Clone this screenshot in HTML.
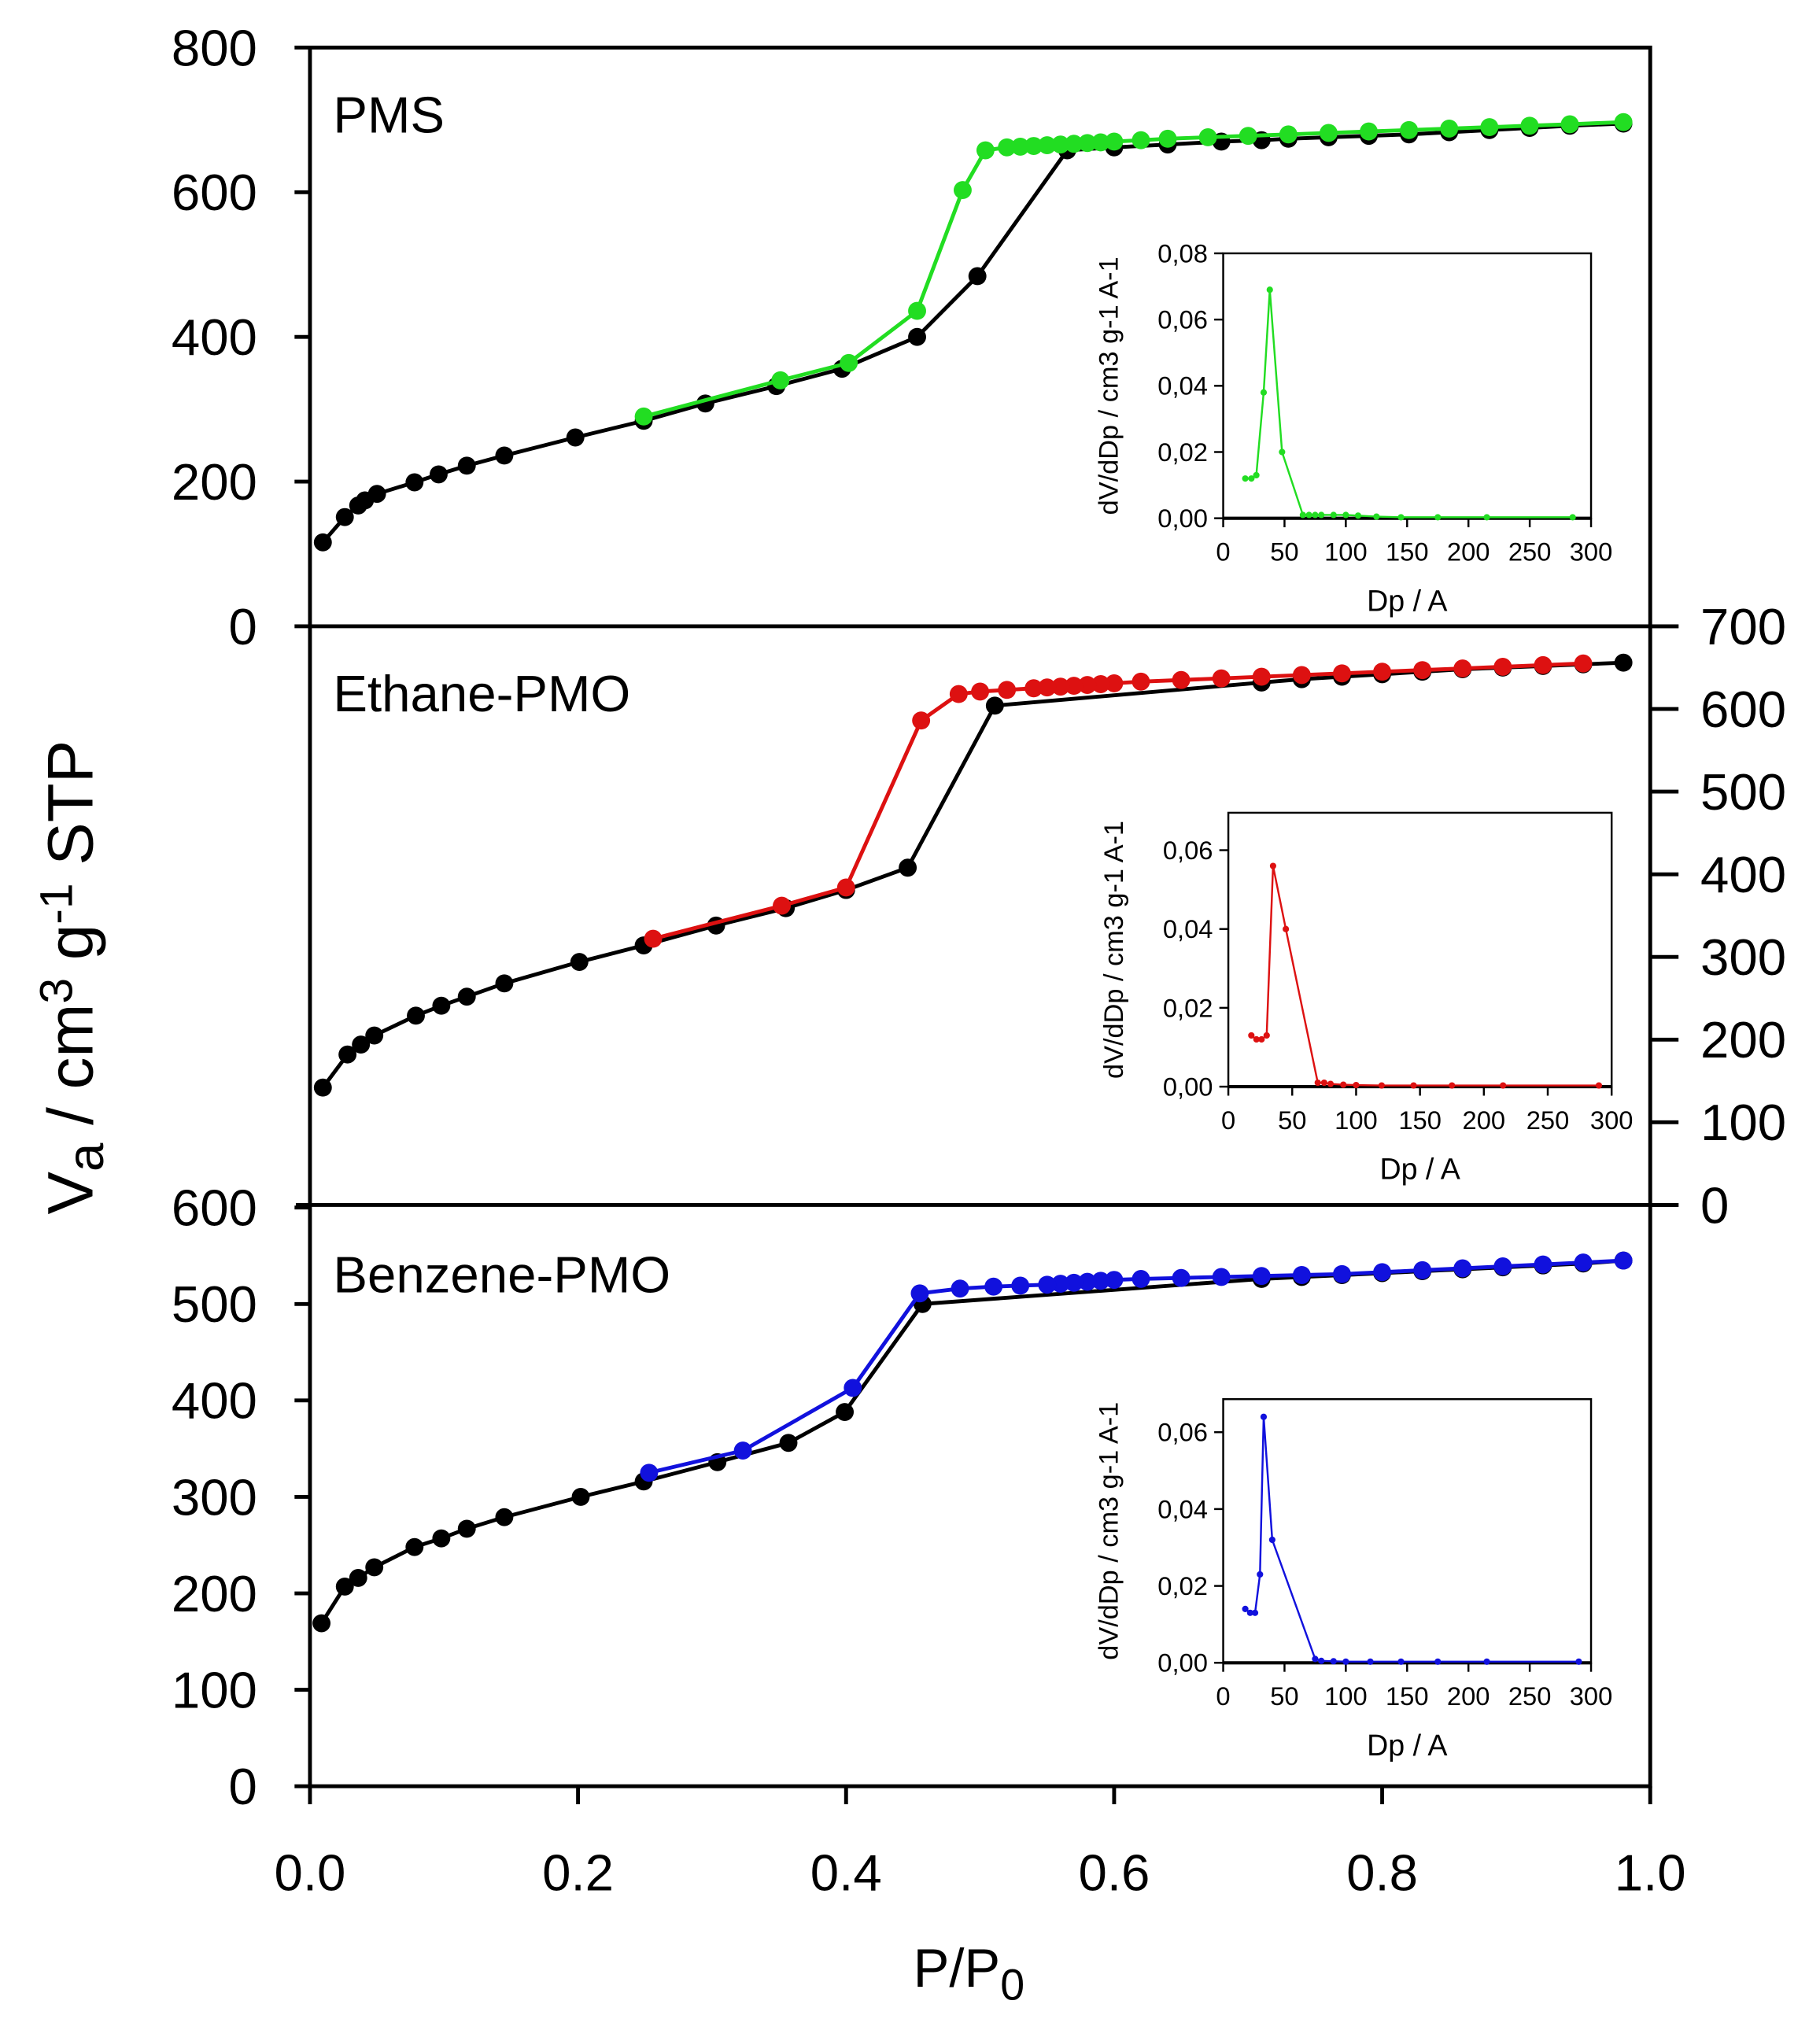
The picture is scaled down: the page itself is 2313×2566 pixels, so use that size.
<!DOCTYPE html>
<html><head><meta charset="utf-8"><style>
html,body{margin:0;padding:0;background:#fff}
svg{display:block}
text{font-family:"Liberation Sans",Arial,sans-serif;fill:#000}
</style></head><body>
<svg id="chart" xmlns="http://www.w3.org/2000/svg" width="2313" height="2566" viewBox="0 0 1415 1570" preserveAspectRatio="none">
<g id="root"></g>
</svg>
<script>
// ---- Data ----
// PMS
const pmsAdsP=[0.0096,0.026,0.036,0.041,0.050,0.078,0.096,0.117,0.145,0.198,0.249,0.295,0.348,0.397,0.453,0.498,0.565,0.60,0.64,0.68,0.71,0.73,0.76,0.79,0.82,0.85,0.88,0.91,0.94,0.98];
const pmsAdsV=[116,151,167,174,183,199,210,222,236,261,284,308,332,356,400,484,658,662,666,670,672,674,676,678,680,683,686,689,692,695];
const pmsDesP=[0.98,0.94,0.91,0.88,0.85,0.82,0.79,0.76,0.73,0.70,0.67,0.64,0.62,0.60,0.59,0.58,0.57,0.56,0.55,0.54,0.53,0.52,0.504,0.487,0.453,0.402,0.351,0.249];
const pmsDesV=[697,694,692,690,688,686,684,682,680,678,676,674,672,670,669,668,667,666,665,664,663,662,658,603,436,364,340,290];
const psdPmsD=[18,23,27,33,38,48,65,70,75,80,90,100,110,125,145,175,215,285];
const psdPmsV=[0.012,0.012,0.013,0.038,0.069,0.020,0.001,0.001,0.001,0.001,0.001,0.001,0.0008,0.0005,0.0003,0.0003,0.0003,0.0003];
// Ethane-PMO
const ethAdsP=[0.0096,0.028,0.038,0.048,0.079,0.098,0.117,0.145,0.201,0.249,0.303,0.355,0.40,0.446,0.511,0.71,0.74,0.77,0.80,0.83,0.86,0.89,0.92,0.95,0.98];
const ethAdsV=[142,182,194,205,229,241,252,268,294,314,338,359,381,408,604,632,636,639,642,645,648,650,652,654,656];
const ethDesP=[0.95,0.92,0.89,0.86,0.83,0.80,0.77,0.74,0.71,0.68,0.65,0.62,0.60,0.59,0.58,0.57,0.56,0.55,0.54,0.52,0.50,0.484,0.456,0.40,0.352,0.256];
const ethDesV=[655,653,651,649,647,645,643,641,639,637,635,633,631,630,629,628,627,626,625,623,621,618,586,384,362,322];
const psdEthD=[18,22,26,30,35,45,70,75,80,90,100,120,145,175,215,290];
const psdEthV=[0.013,0.012,0.012,0.013,0.056,0.040,0.001,0.001,0.0007,0.0005,0.0004,0.0003,0.0003,0.0003,0.0003,0.0003];
// Benzene-PMO
const benAdsP=[0.0086,0.026,0.036,0.048,0.078,0.098,0.117,0.145,0.202,0.249,0.304,0.357,0.399,0.457,0.71,0.74,0.77,0.80,0.83,0.86,0.89,0.92,0.95,0.98];
const benAdsV=[169,207,216,227,248,257,267,279,300,316,336,356,388,500,526,528,530,532,534,536,538,540,542,545];
const benDesP=[0.98,0.95,0.92,0.89,0.86,0.83,0.80,0.77,0.74,0.71,0.68,0.65,0.62,0.60,0.59,0.58,0.57,0.56,0.55,0.53,0.51,0.485,0.455,0.405,0.323,0.253];
const benDesV=[545,543,541,539,537,535,533,531,530,529,528,527,526,525,524,523,522,521,520,519,518,516,511,413,348,325];
const psdBenD=[18,22,26,30,33,40,75,80,90,100,120,145,175,215,290];
const psdBenV=[0.014,0.013,0.013,0.023,0.064,0.032,0.001,0.0005,0.0004,0.0003,0.0003,0.0003,0.0003,0.0003,0.0003];
// Tick labels
const xTicks=[0,0.2,0.4,0.6,0.8,1.0];
const xTickLabels=["0.0","0.2","0.4","0.6","0.8","1.0"];
const topTicks=[0,200,400,600,800];
const midTicks=[0,100,200,300,400,500,600,700];
const botTicks=[0,100,200,300,400,500,600];
const insetXTicks=[0,50,100,150,200,250,300];

const NS="http://www.w3.org/2000/svg";
const root=document.getElementById('root');
function mk(tag,attrs,parent){const e=document.createElementNS(NS,tag);for(const k in attrs)e.setAttribute(k,attrs[k]);(parent||root).appendChild(e);return e;}
const X0=241,X1=1283;
function xs(p){return X0+(X1-X0)*p;}
function yScale(top,bot,max){return v=>bot-(bot-top)*v/max;}

const panels=[
 {name:'pms',top:37,bot:487,max:800,ticks:topTicks,side:'left',label:'PMS',ads:[pmsAdsP,pmsAdsV],des:[pmsDesP,pmsDesV],col:'#22dd22',
  inset:{x0:951,x1:1237,top:197,bot:403,max:0.08,yt:[0,0.02,0.04,0.06,0.08],d:psdPmsD,v:psdPmsV}},
 {name:'ethane-pmo',top:487,bot:937,max:700,ticks:midTicks,side:'right',label:'Ethane-PMO',ads:[ethAdsP,ethAdsV],des:[ethDesP,ethDesV],col:'#dd1111',
  inset:{x0:955,x1:1253,top:632,bot:845,max:0.0695,yt:[0,0.02,0.04,0.06],d:psdEthD,v:psdEthV}},
 {name:'benzene-pmo',top:939,bot:1389,max:600,ticks:botTicks,side:'left',label:'Benzene-PMO',ads:[benAdsP,benAdsV],des:[benDesP,benDesV],col:'#1111dd',
  inset:{x0:951,x1:1237,top:1088,bot:1293,max:0.0686,yt:[0,0.02,0.04,0.06],d:psdBenD,v:psdBenV}}
];

// frame
let f=mk('rect',{x:X0,y:37,width:X1-X0,height:1352,fill:'none',stroke:'#000','stroke-width':3});

let d1=mk('line',{x1:X0,y1:487,x2:1305,y2:487,stroke:'#000','stroke-width':3});

let d2=mk('line',{x1:230,y1:937,x2:1305,y2:937,stroke:'#000','stroke-width':3});


panels.forEach(pn=>{
  const g=mk('g',{});
  
  
  const ys=yScale(pn.top,pn.bot,pn.max);
  pn.ticks.forEach(t=>{
    const y=ys(t);
    if(pn.side==='left'){
      mk('line',{x1:229,y1:y,x2:X0,y2:y,stroke:'#000','stroke-width':3},g);
      const tx=mk('text',{x:200,y:y+14,'font-size':40,'text-anchor':'end'},g);tx.textContent=t;
      
      
    }else{
      mk('line',{x1:X1,y1:y,x2:1305,y2:y,stroke:'#000','stroke-width':3},g);
      const tx=mk('text',{x:1322,y:y+14,'font-size':40,'text-anchor':'start'},g);tx.textContent=t;
      
      
    }
  });
  const lb=mk('text',{x:259,y:pn.top+66,'font-size':40},g);lb.textContent=pn.label;
  
  
  // series
  function series(arr,color,nm){
    const pts=arr[0].map((p,i)=>xs(p)+','+ys(arr[1][i])).join(' ');
    const pl=mk('polyline',{points:pts,fill:'none',stroke:color,'stroke-width':3},g);
    
    
    arr[0].forEach((p,i)=>{
      const c=mk('circle',{cx:xs(p),cy:ys(arr[1][i]),r:7,fill:color},g);
      
      
    });
  }
  series(pn.ads,'#000','adsorption');
  series(pn.des,pn.col,'desorption');
  // inset
  const I=pn.inset;
  const ig=mk('g',{},g);
  
  
  mk('rect',{x:I.x0,y:I.top,width:I.x1-I.x0,height:I.bot-I.top,fill:'#fff',stroke:'#000','stroke-width':1.5},ig);
  const ix=d=>I.x0+(I.x1-I.x0)*d/300, iy=v=>I.bot-(I.bot-I.top)*v/I.max;
  mk('line',{x1:I.x0,y1:I.bot,x2:I.x1,y2:I.bot,stroke:'#000','stroke-width':2.5},ig);
  insetXTicks.forEach(t=>{
    mk('line',{x1:ix(t),y1:I.bot,x2:ix(t),y2:I.bot+7,stroke:'#000','stroke-width':1.5},ig);
    const tx=mk('text',{x:ix(t),y:I.bot+33,'font-size':20,'text-anchor':'middle'},ig);tx.textContent=t;
    
    
  });
  I.yt.forEach(t=>{
    mk('line',{x1:I.x0-7,y1:iy(t),x2:I.x0,y2:iy(t),stroke:'#000','stroke-width':1.5},ig);
    const tx=mk('text',{x:I.x0-12,y:iy(t)+7,'font-size':20,'text-anchor':'end'},ig);tx.textContent=t.toFixed(2).replace('.',',');
    
    
  });
  const xl=mk('text',{x:(I.x0+I.x1)/2,y:I.bot+72,'font-size':23,'text-anchor':'middle'},ig);xl.textContent='Dp / A';
  
  
  const cy=(I.top+I.bot)/2, cx=I.x0-82;
  const yl=mk('text',{x:cx,y:cy,'font-size':21,'text-anchor':'middle',transform:`rotate(-90 ${cx} ${cy})`},ig);yl.textContent='dV/dDp / cm3 g-1 A-1';
  
  
  const ipts=I.d.map((d,i)=>ix(d)+','+iy(I.v[i])).join(' ');
  const ipl=mk('polyline',{points:ipts,fill:'none',stroke:pn.col,'stroke-width':1.5},ig);
  
  
  I.d.forEach((d,i)=>{
    const c=mk('circle',{cx:ix(d),cy:iy(I.v[i]),r:2.5,fill:pn.col},ig);
    
    
  });
});

// x axis ticks
xTicks.forEach((t,i)=>{
  mk('line',{x1:xs(t),y1:1389,x2:xs(t),y2:1403,stroke:'#000','stroke-width':3});
  const tx=mk('text',{x:xs(t),y:1470,'font-size':40,'text-anchor':'middle'});tx.textContent=xTickLabels[i];
  
  
});
const xt=mk('text',{x:710,y:1545,'font-size':42});


xt.innerHTML='P/P<tspan font-size="34" dy="10">0</tspan>';
const yt=mk('text',{x:72,y:760,'font-size':50,'text-anchor':'middle',transform:'rotate(-90 72 760)'});


yt.innerHTML='V<tspan font-size="40" dy="8">a</tspan><tspan dy="-8"> / cm</tspan><tspan font-size="36" dy="-16">3</tspan><tspan dy="16"> g</tspan><tspan font-size="36" dy="-16">-1</tspan><tspan dy="16"> STP</tspan>';
</script>
</body></html>
